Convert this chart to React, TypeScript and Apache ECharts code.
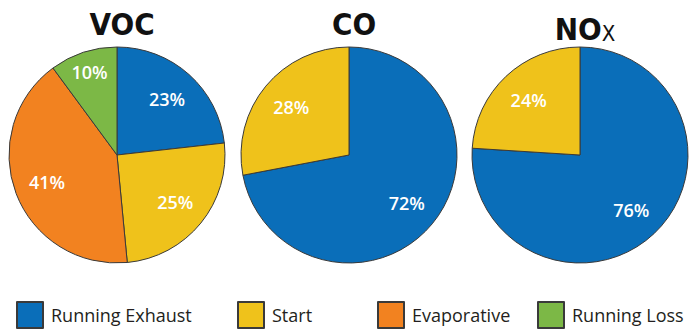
import React, { useEffect, useRef } from "react";
import * as echarts from "echarts";

const categories = ["Running Exhaust", "Start", "Evaporative", "Running Loss"];
const sliceColors = ["#0a6eb9", "#efc21b", "#f28220", "#7cb846"];
const vocValues = [23, 25, 41, 10];
const coValues = [72, 28];
const noxValues = [76, 24];
const pieTitles = ["VOC", "CO", "{a|NO}{b|X}"];

const centersX = [117, 349, 580];
const centerY = 155;
const R = 108;

const legendLeft = [11, 232, 372, 532];

export default function App() {
  const ref = useRef<HTMLDivElement>(null);
  useEffect(() => {
    if (!ref.current) return;
    const chart = echarts.init(ref.current, null, { renderer: "svg" });
    const groups = [vocValues, coValues, noxValues];
    const series: any[] = [];
    groups.forEach((vals, gi) => {
      const data = vals.map((v, i) => ({
        name: categories[i],
        value: v,
        itemStyle: { color: sliceColors[i] },
      }));
      series.push({
        type: "pie",
        center: [centersX[gi], centerY],
        radius: R,
        startAngle: 90,
        clockwise: true,
        silent: true,
        label: { show: false },
        labelLine: { show: false },
        itemStyle: { borderColor: "#3a3a3a", borderWidth: 1 },
        data,
      });
      series.push({
        type: "pie",
        center: [centersX[gi], centerY],
        radius: [36, R],
        startAngle: 90,
        clockwise: true,
        silent: true,
        legendHoverLink: false,
        itemStyle: { color: "rgba(0,0,0,0)", borderWidth: 0 },
        label: {
          show: true,
          position: "inside",
          formatter: "{c}%",
          color: "#ffffff",
          fontSize: 18,
          fontWeight: 600,
          fontFamily: "Open Sans",
        },
        labelLine: { show: false },
        labelLayout:
          gi === 0
            ? (p: any) => (p.dataIndex === 3 ? { dx: -4, dy: -12 } : {})
            : undefined,
        data: vals.map((v, i) => ({ name: categories[i], value: v })),
      });
    });

    const titleFont = "'Liberation Sans Narrow', 'DejaVu Sans Condensed', 'Roboto Condensed', 'Liberation Sans', sans-serif";
    const title = pieTitles.map((t, i) => ({
      text: t,
      left: centersX[i],
      top: 3,
      textAlign: "center",
      textStyle: {
        fontSize: 31,
        fontWeight: "bold",
        fontFamily: titleFont,
        color: "#111",
        rich: {
          a: { fontSize: 31, fontWeight: "bold", fontFamily: titleFont, color: "#111", lineHeight: 36, verticalAlign: "bottom" },
          b: { fontSize: 22, fontWeight: "normal", fontFamily: titleFont, color: "#111", lineHeight: 22, verticalAlign: "bottom" },
        },
      },
    }));

    const legend = categories.map((c, i) => ({
      data: [c],
      left: legendLeft[i],
      top: 296,
      icon: "rect",
      itemWidth: 26,
      itemHeight: 26,
      selectedMode: false,
      textStyle: {
        fontSize: 18,
        fontFamily: "Open Sans",
        color: "#231f20",
        padding: i === 2 ? [6, 0, 0, 3] : [0, 0, 0, 3],
      },
    }));

    chart.setOption({
      animation: false,
      backgroundColor: "#ffffff",
      title,
      legend,
      series,
    });
    return () => chart.dispose();
  }, []);
  return (
    <div
      ref={ref}
      style={{ position: "fixed", left: 0, top: 0, width: 690, height: 329 }}
    />
  );
}
